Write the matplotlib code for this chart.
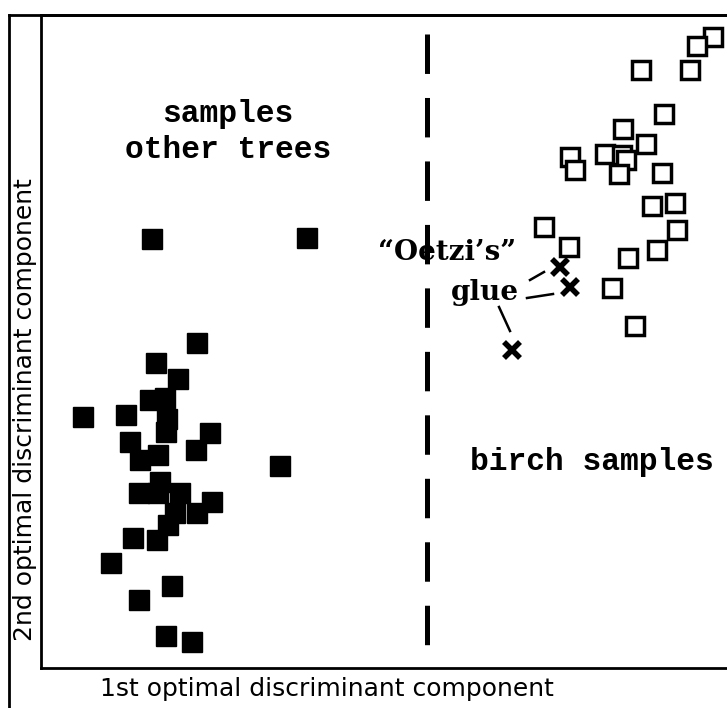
import matplotlib.pyplot as plt
from matplotlib.lines import Line2D

plt.rcParams['lines.scale_dashes'] = False

# scores on the two discriminant components
other_x = [156, 115, 137, 109, 124, 42, 85, 126, 125, 169, 89, 155, 99, 117, 239, 119,
           98, 117, 139, 171, 156, 134, 127, 92, 116, 70, 131, 98, 125, 151, 111, 266]
other_y = [325, 305, 289, 268, 270, 251, 253, 249, 236, 235, 226, 218, 208, 213, 202, 186,
           175, 175, 175, 166, 155, 155, 143, 130, 128, 105, 82, 68, 32, 26, 429, 430]

birch_x = [672, 656, 600, 649, 623, 582, 605, 529, 534, 564, 581, 585, 578, 621, 634, 611,
           636, 503, 616, 528, 587, 571, 594]
birch_y = [631, 622, 598, 598, 554, 539, 524, 511, 498, 514, 513, 508, 494, 495, 465, 462,
           438, 441, 418, 421, 410, 380, 342]

glue_x = [519, 529, 471]
glue_y = [401, 381, 318]

boundary_x = 386

W, H = 727, 708
fig = plt.figure(figsize=(W / 100, H / 100), dpi=100)
ax = fig.add_axes([41 / W, (H - 668) / H, 699 / W, 653 / H])
ax.set_xlim(0, 699)
ax.set_ylim(0, 653)

ax.plot(other_x, other_y, 's', color='black', ms=15, mew=1)
ax.plot(birch_x, birch_y, 's', mfc='white', mec='black', ms=13, mew=2.5)
ax.plot(glue_x, glue_y, 'x', color='black', ms=12, mew=4)

# dashed separation line (drawn top-down)
ax.plot([boundary_x, boundary_x], [634, 23], color='black', lw=3.6,
        linestyle=(0, (28.4, 17.3)))

# leader lines from the label to the glue samples
ax.plot([489, 503], [388, 396], color='black', lw=1.8)
ax.plot([486, 512], [370, 374], color='black', lw=1.8)
ax.plot([458, 469], [361, 337], color='black', lw=1.8)

mono = dict(family='Liberation Mono', weight='bold', fontsize=22.5, ha='center', va='center')
ax.text(187, 536, 'samples\nother trees', linespacing=1.25, **mono)
ax.text(551, 206, 'birch samples', **mono)
ax.text(406, 416, '\u201cOetzi\u2019s\u201d', family='DejaVu Serif', weight='bold',
        fontsize=20, ha='center', va='center')
ax.text(444, 375, 'glue', family='DejaVu Serif', weight='bold',
        fontsize=20, ha='center', va='center')

ax.set_xticks([])
ax.set_yticks([])
ax.spines['right'].set_visible(False)
for s in ['left', 'bottom', 'top']:
    ax.spines[s].set_linewidth(2)

# outer frame
fig.add_artist(Line2D([9 / W, 9 / W], [0, (H - 15) / H], color='black', lw=2))
fig.add_artist(Line2D([9 / W, 1], [(H - 15) / H, (H - 15) / H], color='black', lw=2))

fig.text(327 / W, (H - 689) / H, '1st optimal discriminant component',
         fontsize=18, ha='center', va='center')
fig.text(25 / W, (H - 410) / H, '2nd optimal discriminant component',
         fontsize=18, ha='center', va='center', rotation=90)

fig.savefig('out.png', dpi=100)
